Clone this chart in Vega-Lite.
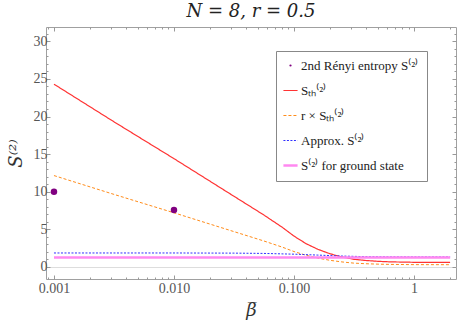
{
  "$schema": "https://vega.github.io/schema/vega-lite/v6.json",
  "width": 410,
  "height": 252,
  "autosize": {"type": "none"},
  "padding": {"left": 46, "top": 27, "right": 2, "bottom": 48},
  "title": {"text": "N = 8,  r = 0.5", "font": "DejaVu Serif", "fontSize": 18, "fontStyle": "italic", "fontWeight": "normal", "color": "#222", "offset": 6, "anchor": "middle"},
  "config": {"view": {"stroke": "#a0a0a0", "strokeWidth": 1}, "font": "Liberation Serif"},
  "datasets": {
    "lines": [
      {"beta": 0.001, "S": 24.3, "series": "th"},
      {"beta": 0.00316, "S": 19.3, "series": "th"},
      {"beta": 0.01, "S": 14.4, "series": "th"},
      {"beta": 0.0316, "S": 9.4, "series": "th"},
      {"beta": 0.0562, "S": 6.9, "series": "th"},
      {"beta": 0.0794, "S": 5.3, "series": "th"},
      {"beta": 0.1, "S": 4.1, "series": "th"},
      {"beta": 0.126, "S": 3.1, "series": "th"},
      {"beta": 0.158, "S": 2.35, "series": "th"},
      {"beta": 0.2, "S": 1.75, "series": "th"},
      {"beta": 0.251, "S": 1.33, "series": "th"},
      {"beta": 0.316, "S": 1.02, "series": "th"},
      {"beta": 0.398, "S": 0.86, "series": "th"},
      {"beta": 0.501, "S": 0.75, "series": "th"},
      {"beta": 0.631, "S": 0.68, "series": "th"},
      {"beta": 1, "S": 0.62, "series": "th"},
      {"beta": 2, "S": 0.6, "series": "th"},
      {"beta": 0.001, "S": 12.15, "series": "rth"},
      {"beta": 0.00316, "S": 9.65, "series": "rth"},
      {"beta": 0.01, "S": 7.2, "series": "rth"},
      {"beta": 0.0316, "S": 4.7, "series": "rth"},
      {"beta": 0.0562, "S": 3.45, "series": "rth"},
      {"beta": 0.0794, "S": 2.65, "series": "rth"},
      {"beta": 0.1, "S": 2.05, "series": "rth"},
      {"beta": 0.126, "S": 1.55, "series": "rth"},
      {"beta": 0.158, "S": 1.18, "series": "rth"},
      {"beta": 0.2, "S": 0.88, "series": "rth"},
      {"beta": 0.251, "S": 0.67, "series": "rth"},
      {"beta": 0.316, "S": 0.51, "series": "rth"},
      {"beta": 0.398, "S": 0.43, "series": "rth"},
      {"beta": 0.501, "S": 0.375, "series": "rth"},
      {"beta": 0.631, "S": 0.34, "series": "rth"},
      {"beta": 1, "S": 0.31, "series": "rth"},
      {"beta": 2, "S": 0.3, "series": "rth"},
      {"beta": 0.001, "S": 1.86, "series": "approx"},
      {"beta": 0.01, "S": 1.86, "series": "approx"},
      {"beta": 0.0316, "S": 1.84, "series": "approx"},
      {"beta": 0.0562, "S": 1.8, "series": "approx"},
      {"beta": 0.1, "S": 1.7, "series": "approx"},
      {"beta": 0.158, "S": 1.58, "series": "approx"},
      {"beta": 0.251, "S": 1.45, "series": "approx"},
      {"beta": 0.398, "S": 1.37, "series": "approx"},
      {"beta": 0.631, "S": 1.34, "series": "approx"},
      {"beta": 1, "S": 1.33, "series": "approx"},
      {"beta": 2, "S": 1.33, "series": "approx"},
      {"beta": 0.001, "S": 1.27, "series": "ground"},
      {"beta": 2, "S": 1.27, "series": "ground"}
    ],
    "dots": [
      {"beta": 0.001, "S": 10.0, "series": "dots"},
      {"beta": 0.01, "S": 7.57, "series": "dots"}
    ]
  },
  "resolve": {"axis": {"x": "independent", "y": "independent"}},
  "layer": [
    {
      "data": {"name": "lines"},
      "mark": {"type": "line", "clip": true},
      "encoding": {
        "x": {
          "field": "beta", "type": "quantitative",
          "scale": {"type": "log", "domain": [0.000858, 2.239], "nice": false},
          "axis": {
            "orient": "bottom",
            "values": [0.0009, 0.001, 0.002, 0.003, 0.004, 0.005, 0.006, 0.007, 0.008, 0.009, 0.01, 0.02, 0.03, 0.04, 0.05, 0.06, 0.07, 0.08, 0.09, 0.1, 0.2, 0.3, 0.4, 0.5, 0.6, 0.7, 0.8, 0.9, 1, 2],
            "labelExpr": "datum.value===0.001?'0.001':datum.value===0.01?'0.010':datum.value===0.1?'0.100':datum.value===1?'1':''",
            "labelOverlap": false, "labelFlush": false,
            "labelFont": "Liberation Serif", "labelFontSize": 14, "labelColor": "#555",
            "labelPadding": 6,
            "domain": false, "grid": false,
            "tickColor": "#999",
            "tickSize": {"condition": {"test": "datum.value===0.001||datum.value===0.01||datum.value===0.1||datum.value===1", "value": -4}, "value": -2},
            "title": "β̅", "titleFont": "DejaVu Serif", "titleFontSize": 18, "titleFontStyle": "italic", "titleFontWeight": "normal", "titleColor": "#333", "titlePadding": 4
          }
        },
        "y": {
          "field": "S", "type": "quantitative",
          "scale": {"domain": [-1.6, 31.9], "nice": false, "zero": false},
          "axis": {
            "orient": "left",
            "values": [0, 1, 2, 3, 4, 5, 6, 7, 8, 9, 10, 11, 12, 13, 14, 15, 16, 17, 18, 19, 20, 21, 22, 23, 24, 25, 26, 27, 28, 29, 30, 31],
            "labelExpr": "datum.value % 5 === 0 ? datum.value : ''",
            "labelOverlap": false, "labelFlush": false,
            "labelFont": "Liberation Serif", "labelFontSize": 14, "labelColor": "#555",
            "labelPadding": 3,
            "domain": false,
            "grid": true, "gridColor": "#dddddd",
            "gridOpacity": {"condition": {"test": "datum.value===0", "value": 1}, "value": 0},
            "tickColor": "#999",
            "tickSize": {"condition": {"test": "datum.value % 5 === 0", "value": -4}, "value": -2},
            "title": "S⁽²⁾", "titleFont": "DejaVu Serif", "titleFontSize": 18, "titleFontStyle": "italic", "titleFontWeight": "normal", "titleColor": "#333", "titlePadding": 8
          }
        },
        "color": {
          "field": "series", "type": "nominal",
          "scale": {"domain": ["dots", "th", "rth", "approx", "ground"], "range": ["#800080", "#ff3333", "#ff8c1a", "#3030ff", "#ff88f0"]},
          "legend": {
            "orient": "none", "legendX": 230, "legendY": 24,
            "title": null,
            "labelExpr": "datum.value==='dots'?'2nd Rényi entropy S⁽²⁾':datum.value==='th'?'Sₜₕ⁽²⁾':datum.value==='rth'?'r × Sₜₕ⁽²⁾':datum.value==='approx'?'Approx. S⁽²⁾':'S⁽²⁾ for ground state'",
            "labelFont": "Liberation Serif", "labelFontSize": 13, "labelColor": "#222", "labelLimit": 300,
            "strokeColor": "#888", "fillColor": "white", "padding": 8, "rowPadding": 11,
            "symbolType": "stroke", "symbolSize": 200, "symbolStrokeWidth": 1.2,
            "encode": {
              "symbols": {
                "update": {
                  "shape": {"signal": "datum.value==='dots'?'circle':'stroke'"},
                  "size": {"signal": "datum.value==='dots'?5:200"},
                  "fill": {"signal": "datum.value==='dots'?'#800080':'transparent'"},
                  "stroke": {"signal": "datum.value==='dots'?'#800080':datum.value==='th'?'#ff3333':datum.value==='rth'?'#ff8c1a':datum.value==='approx'?'#3030ff':'#ff88f0'"},
                  "strokeWidth": {"signal": "datum.value==='ground'?2.5:datum.value==='dots'?0:1.2"},
                  "strokeDash": {"signal": "datum.value==='rth'?[3,2]:datum.value==='approx'?[2,1.5]:[1,0]"}
                }
              }
            }
          }
        },
        "strokeDash": {
          "field": "series", "type": "nominal",
          "scale": {"domain": ["th", "rth", "approx", "ground"], "range": [[1, 0], [3, 2], [2, 1.5], [1, 0]]},
          "legend": null
        },
        "strokeWidth": {
          "field": "series", "type": "nominal",
          "scale": {"type": "ordinal", "domain": ["th", "rth", "approx", "ground"], "range": [1.2, 1, 1, 2.5]},
          "legend": null
        }
      }
    },
    {
      "data": {"name": "dots"},
      "mark": {"type": "circle", "size": 42, "opacity": 1},
      "encoding": {
        "x": {
          "field": "beta", "type": "quantitative",
          "axis": {
            "orient": "top",
            "values": [0.0009, 0.001, 0.002, 0.003, 0.004, 0.005, 0.006, 0.007, 0.008, 0.009, 0.01, 0.02, 0.03, 0.04, 0.05, 0.06, 0.07, 0.08, 0.09, 0.1, 0.2, 0.3, 0.4, 0.5, 0.6, 0.7, 0.8, 0.9, 1, 2],
            "labels": false, "domain": false, "grid": false, "title": null,
            "tickColor": "#999",
            "tickSize": {"condition": {"test": "datum.value===0.001||datum.value===0.01||datum.value===0.1||datum.value===1", "value": -4}, "value": -2}
          }
        },
        "y": {
          "field": "S", "type": "quantitative",
          "axis": {
            "orient": "right",
            "values": [0, 1, 2, 3, 4, 5, 6, 7, 8, 9, 10, 11, 12, 13, 14, 15, 16, 17, 18, 19, 20, 21, 22, 23, 24, 25, 26, 27, 28, 29, 30, 31],
            "labels": false, "domain": false, "grid": false, "title": null,
            "tickColor": "#999",
            "tickSize": {"condition": {"test": "datum.value % 5 === 0", "value": -4}, "value": -2}
          }
        },
        "color": {"field": "series", "type": "nominal"}
      }
    }
  ]
}
